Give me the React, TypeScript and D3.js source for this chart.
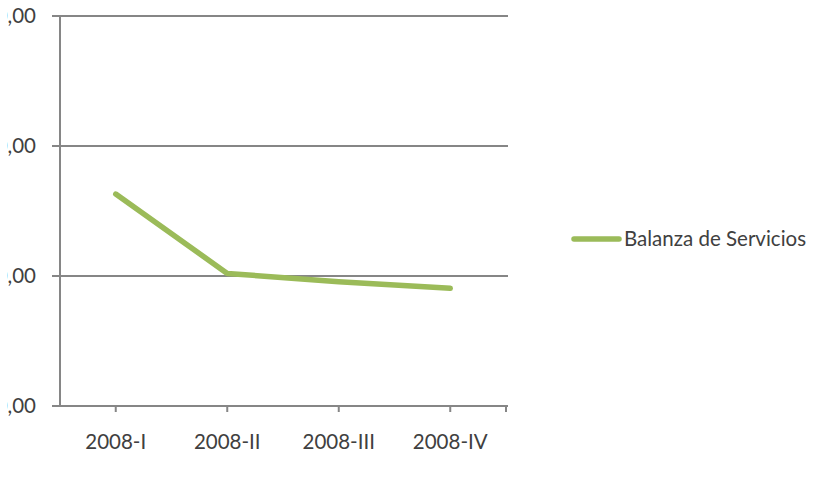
import React from "react";
import * as d3 from "d3";

// Quarterly services balance
const categories = ["2008-I", "2008-II", "2008-III", "2008-IV"];
const serviciosValues = [163, 102, 95.6, 90.5];
const yTicks = [0, 100, 200, 300];
const seriesName = "Balanza de Servicios";

const W = 817;
const H = 482;
const margin = { left: 60, right: 311, top: 16, bottom: 76 };
const FONT = "Lato, 'Open Sans', sans-serif";
const FS = 20.5;
const GRID = "#868686";
const LINE = "#9BBB59";
const TEXT = "#404040";

const fmt = (v: number) => d3.format(".2f")(v).replace(".", ",");

export default function App() {
  const x = d3
    .scaleBand<string>()
    .domain(categories)
    .range([margin.left, W - margin.right]);
  const y = d3
    .scaleLinear()
    .domain([0, 300])
    .range([H - margin.bottom, margin.top]);

  const cx = (c: string) => (x(c) as number) + x.bandwidth() / 2;
  const pts: [number, number][] = categories.map((c, i) => [cx(c), y(serviciosValues[i])]);
  const path = d3.line()(pts) as string;

  const x0 = margin.left;
  const x1 = W - margin.right;
  const yb = y(0);
  const xTickPos = [...categories.map(cx), x1];

  return (
    <svg
      width={W}
      height={H}
      style={{ position: "absolute", left: 0, top: 0, background: "#fff" }}
    >
      <defs>
        <clipPath id="frame">
          <rect x={7} y={0} width={W - 7} height={H} />
        </clipPath>
      </defs>
      {/* horizontal gridlines with left tick marks */}
      {yTicks.map((t) => (
        <g key={t}>
          <line x1={x0 - 8} x2={x1 + 2} y1={y(t)} y2={y(t)} stroke={GRID} strokeWidth={2} />
          <text
            x={36}
            y={y(t)}
            dy="0.36em"
            textAnchor="end"
            fontFamily={FONT}
            fontSize={FS}
            fill={TEXT}
            clipPath="url(#frame)"
          >
            {fmt(t)}
          </text>
        </g>
      ))}
      {/* value axis */}
      <line x1={x0} x2={x0} y1={margin.top} y2={yb + 1} stroke={GRID} strokeWidth={2} />
      {/* category axis ticks */}
      {xTickPos.map((p, i) => (
        <line key={i} x1={p} x2={p} y1={yb} y2={yb + 6} stroke={GRID} strokeWidth={2} />
      ))}
      {categories.map((c) => (
        <text
          key={c}
          x={cx(c)}
          y={yb + 43}
          textAnchor="middle"
          fontFamily={FONT}
          fontSize={FS}
          fill={TEXT}
        >
          {c}
        </text>
      ))}
      {/* series line */}
      <path
        d={path}
        fill="none"
        stroke={LINE}
        strokeWidth={5.5}
        strokeLinecap="round"
        strokeLinejoin="round"
      />
      {/* legend */}
      <line x1={574} x2={619} y1={239} y2={239} stroke={LINE} strokeWidth={5.5} strokeLinecap="round" />
      <text x={624} y={239} dy="0.36em" fontFamily={FONT} fontSize={FS} fill={TEXT}>
        {seriesName}
      </text>
    </svg>
  );
}
